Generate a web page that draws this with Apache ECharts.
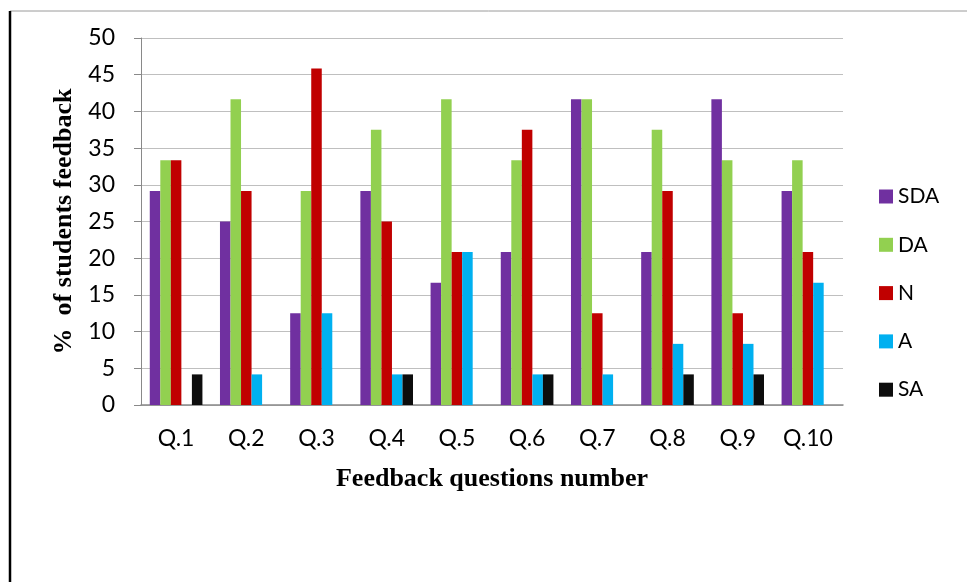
<!DOCTYPE html>
<html>
<head>
<meta charset="utf-8">
<script src="https://cdn.jsdelivr.net/npm/echarts@6/dist/echarts.min.js"></script>
<style>
  html, body { margin: 0; padding: 0; background: #fff; }
  #chart { width: 967px; height: 582px; }
</style>
</head>
<body>
<div id="chart"></div>
<script>
// Feedback questions and response shares (% of students)
const questions = ['Q.1', 'Q.2', 'Q.3', 'Q.4', 'Q.5', 'Q.6', 'Q.7', 'Q.8', 'Q.9', 'Q.10'];
const sda = [29.17, 25, 12.5, 29.17, 16.67, 20.83, 41.67, 20.83, 41.67, 29.17];
const da  = [33.33, 41.67, 29.17, 37.5, 41.67, 33.33, 41.67, 37.5, 33.33, 33.33];
const n   = [33.33, 29.17, 45.83, 25, 20.83, 37.5, 12.5, 29.17, 12.5, 20.83];
const a   = [0, 4.17, 12.5, 4.17, 20.83, 4.17, 4.17, 8.33, 8.33, 16.67];
const sa  = [4.17, 0, 0, 4.17, 0, 4.17, 0, 4.17, 4.17, 0];

const seriesNames = ['SDA', 'DA', 'N', 'A', 'SA'];
const seriesColors = ['#7030A0', '#92D050', '#C00000', '#00B0F0', '#0D0D0D'];
const seriesData = [sda, da, n, a, sa];

const chart = echarts.init(document.getElementById('chart'));
const labelFont = 'Lato, "Open Sans", sans-serif';
const titleFont = '"Liberation Serif", "DejaVu Serif", serif';

chart.setOption({
  animation: false,
  backgroundColor: '#fff',
  graphic: [
    { type: 'line', shape: { x1: 10, y1: 11, x2: 967, y2: 11 }, style: { stroke: '#9a9a9a', lineWidth: 1 } },
    { type: 'line', shape: { x1: 10, y1: 11, x2: 10, y2: 582 }, style: { stroke: '#000', lineWidth: 2.5 } }
  ],
  grid: { left: 141, top: 38, right: 124, bottom: 177 },
  legend: {
    orient: 'vertical',
    left: 874,
    top: 181,
    itemWidth: 14,
    itemHeight: 14,
    itemGap: 27.3,
    icon: 'rect',
    textStyle: { fontFamily: labelFont, fontSize: 21, color: '#000' },
    data: seriesNames
  },
  xAxis: {
    type: 'category',
    data: questions,
    name: 'Feedback questions number',
    nameLocation: 'middle',
    nameGap: 61,
    nameTextStyle: { fontFamily: titleFont, fontWeight: 'bold', fontSize: 26, color: '#000' },
    axisLine: { lineStyle: { color: '#898989', width: 1.5 } },
    axisTick: { show: false },
    axisLabel: { fontFamily: labelFont, fontSize: 23, color: '#000', margin: 22 }
  },
  yAxis: {
    type: 'value',
    min: 0,
    max: 50,
    interval: 5,
    name: '%  of students feedback',
    nameLocation: 'middle',
    nameGap: 63,
    nameTextStyle: { fontFamily: titleFont, fontWeight: 'bold', fontSize: 26, color: '#000' },
    axisLine: { show: true, lineStyle: { color: '#898989', width: 1 } },
    axisTick: { show: true, length: 7, lineStyle: { color: '#898989' } },
    axisLabel: { fontFamily: labelFont, fontSize: 23, color: '#000', margin: 26 },
    splitLine: { lineStyle: { color: '#bfbfbf', width: 1 } }
  },
  series: seriesNames.map((name, i) => ({
    name: name,
    type: 'bar',
    data: seriesData[i],
    barGap: '0%',
    barCategoryGap: '25%',
    itemStyle: { color: seriesColors[i] }
  }))
});
</script>
</body>
</html>
